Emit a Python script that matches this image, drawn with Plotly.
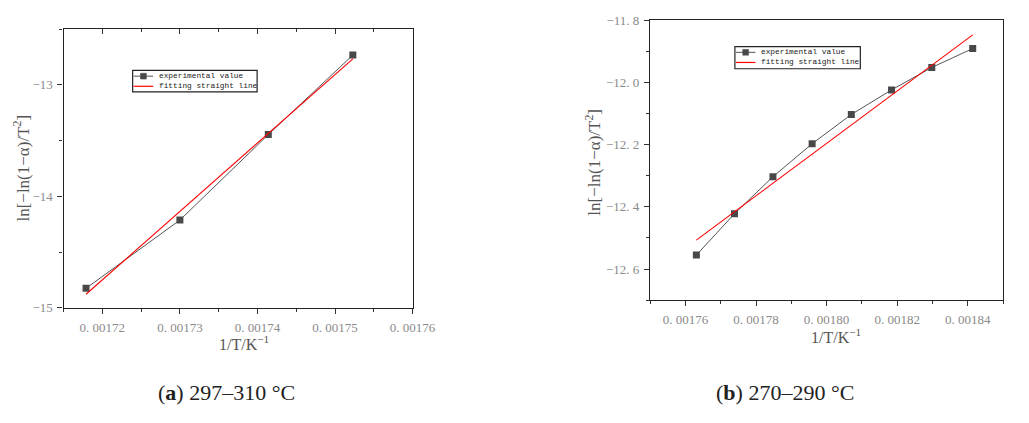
import numpy as np
import plotly.graph_objects as go

# ---- data ----
x_a = [0.0017179, 0.0017300, 0.0017414, 0.0017523]
y_a = [-14.824, -14.212, -13.445, -12.732]
x_b = [0.0017631, 0.0017739, 0.0017848, 0.0017959, 0.0018070, 0.0018184, 0.0018298, 0.0018414]
y_b = [-12.555, -12.422, -12.303, -12.197, -12.103, -12.024, -11.952, -11.891]

xt_a = [0.00172, 0.00173, 0.00174, 0.00175, 0.00176]
xl_a = ["0. 00172", "0. 00173", "0. 00174", "0. 00175", "0. 00176"]
yt_a = [-15, -14, -13]
yl_a = ["\u221215", "\u221214", "\u221213"]
xt_b = [0.00176, 0.00178, 0.00180, 0.00182, 0.00184]
xl_b = ["0. 00176", "0. 00178", "0. 00180", "0. 00182", "0. 00184"]
yt_b = [-12.6, -12.4, -12.2, -12.0, -11.8]
yl_b = ["\u221212. 6", "\u221212. 4", "\u221212. 2", "\u221212. 0", "\u221211. 8"]

names = ["experimental value", "fitting straight line"]
captions = ["(<b>a</b>) 297\u2013310 \u00b0C", "(<b>b</b>) 270\u2013290 \u00b0C"]
ytitle = "ln[\u2212ln(1\u2212\u03b1)/T<sup>2</sup>]"
xtitle = "1/T/K<sup>\u22121</sup>"

# linear fits
pa = np.polyfit(x_a, y_a, 1)
pb = np.polyfit(x_b, y_b, 1)
fx_a = [x_a[0], x_a[-1]]
fy_a = list(np.polyval(pa, fx_a))
fx_b = [x_b[0], x_b[-1]]
fy_b = list(np.polyval(pb, fx_b))

W, H = 1029, 423
GRAY = "#484848"
TICKC = "#8a8a8a"
TICKF = dict(family="Liberation Serif", size=13, color=TICKC)

fig = go.Figure()
fig.add_trace(go.Scatter(x=x_a, y=y_a, mode="lines+markers", name=names[0],
                         line=dict(color="#555", width=1),
                         marker=dict(symbol="square", size=7, color=GRAY),
                         xaxis="x", yaxis="y", showlegend=False))
fig.add_trace(go.Scatter(x=fx_a, y=fy_a, mode="lines", name=names[1],
                         line=dict(color="red", width=1.1),
                         xaxis="x", yaxis="y", showlegend=False))
fig.add_trace(go.Scatter(x=x_a, y=y_a, mode="none", showlegend=False, hoverinfo="skip",
                         xaxis="x3", yaxis="y"))
fig.add_trace(go.Scatter(x=x_b, y=y_b, mode="lines+markers", name=names[0],
                         line=dict(color="#555", width=1),
                         marker=dict(symbol="square", size=7, color=GRAY),
                         xaxis="x2", yaxis="y2", showlegend=False))
fig.add_trace(go.Scatter(x=fx_b, y=fy_b, mode="lines", name=names[1],
                         line=dict(color="red", width=1.1),
                         xaxis="x2", yaxis="y2", showlegend=False))

ax_common = dict(showgrid=False, zeroline=False, showline=True, linecolor="#222",
                 linewidth=1.3, mirror=True, ticks="outside", ticklen=5, tickwidth=1,
                 tickcolor="#333", tickfont=TICKF, ticklabelstandoff=2)

da_x = [65 / W, 422 / W]
da_y = [1 - 312 / H, 1 - 23 / H]
db_x = [665 / W, 1026 / W]
db_y = [1 - 304 / H, 1 - 13.7 / H]

fig.update_layout(
    width=W, height=H, margin=dict(l=0, r=0, t=0, b=0),
    paper_bgcolor="white", plot_bgcolor="white", showlegend=False,
    xaxis=dict(domain=da_x, anchor="y", range=[0.001715, 0.00176],
               tickvals=xt_a, ticktext=xl_a,
               minor=dict(dtick=0.00001, tick0=0.000005, ticks="outside", ticklen=3, tickcolor="#333"),
               **ax_common),
    xaxis3=dict(overlaying="x", side="top", anchor="y", range=[0.001715, 0.00176],
                tickvals=xt_a, showticklabels=False, showline=False, showgrid=False,
                zeroline=False, ticks="inside", ticklen=5, tickcolor="#333",
                minor=dict(dtick=0.00001, tick0=0.000005, ticks="inside", ticklen=3, tickcolor="#333")),
    yaxis=dict(domain=da_y, anchor="x", range=[-15, -12.5],
               tickvals=yt_a, ticktext=yl_a,
               minor=dict(dtick=1, tick0=-14.5, ticks="outside", ticklen=3, tickcolor="#333"),
               **ax_common),
    xaxis2=dict(domain=db_x, anchor="y2", range=[0.00175, 0.00185],
                tickvals=xt_b, ticktext=xl_b,
                minor=dict(dtick=0.00002, tick0=0.00175, ticks="outside", ticklen=3, tickcolor="#333"),
                **ax_common),
    yaxis2=dict(domain=db_y, anchor="x2", range=[-12.7, -11.8],
                tickvals=yt_b, ticktext=yl_b,
                minor=dict(dtick=0.2, tick0=-11.9, ticks="outside", ticklen=3, tickcolor="#333"),
                **ax_common),
)

# ---- compact legends drawn as shapes + text (pixel layout) ----
def px(x):
    return x / W

def py(y):
    return 1 - y / H

shapes = []
ann = []
LEGF = dict(family="Liberation Mono", size=7.8, color="#222")
for (bx0, by0, bx1, by1) in [(135.7, 65.7, 263, 88), (751.7, 41, 880, 64)]:
    shapes.append(dict(type="rect", xref="paper", yref="paper",
                       x0=px(bx0), x1=px(bx1), y0=py(by1), y1=py(by0),
                       line=dict(color="#222", width=1.2), fillcolor="white"))
    r1 = by0 + 6
    r2 = by0 + 16.5
    shapes.append(dict(type="line", xref="paper", yref="paper",
                       x0=px(bx0 + 1), x1=px(bx0 + 21), y0=py(r1), y1=py(r1),
                       line=dict(color="#555", width=1)))
    shapes.append(dict(type="rect", xref="paper", yref="paper",
                       x0=px(bx0 + 8), x1=px(bx0 + 14), y0=py(r1 + 3), y1=py(r1 - 3),
                       line=dict(color=GRAY, width=0.5), fillcolor=GRAY))
    shapes.append(dict(type="line", xref="paper", yref="paper",
                       x0=px(bx0 + 1), x1=px(bx0 + 21), y0=py(r2), y1=py(r2),
                       line=dict(color="red", width=1.2)))
    for txt, r in zip(names, [r1, r2]):
        ann.append(dict(x=px(bx0 + 25), y=py(r), text=txt, xanchor="left", yanchor="middle",
                        font=LEGF))

TF = dict(family="Liberation Serif", size=16, color="#555")
ann += [
    dict(x=22 / W, y=1 - 167 / H, text=ytitle, textangle=-90, font=dict(TF, size=17)),
    dict(x=250 / W, y=1 - 348 / H, text=xtitle, font=TF),
    dict(x=607 / W, y=1 - 161 / H, text=ytitle, textangle=-90, font=dict(TF, size=17)),
    dict(x=855 / W, y=1 - 341 / H, text=xtitle, font=TF),
    dict(x=232 / W, y=1 - 400 / H, text=captions[0],
         font=dict(family="Liberation Serif", size=22, color="#222")),
    dict(x=803 / W, y=1 - 400 / H, text=captions[1],
         font=dict(family="Liberation Serif", size=22, color="#222")),
]
for a in ann:
    a.setdefault("xanchor", "center")
    a.setdefault("yanchor", "middle")
    a.update(xref="paper", yref="paper", showarrow=False)
fig.update_layout(annotations=ann, shapes=shapes)

fig.write_html("out.html")
